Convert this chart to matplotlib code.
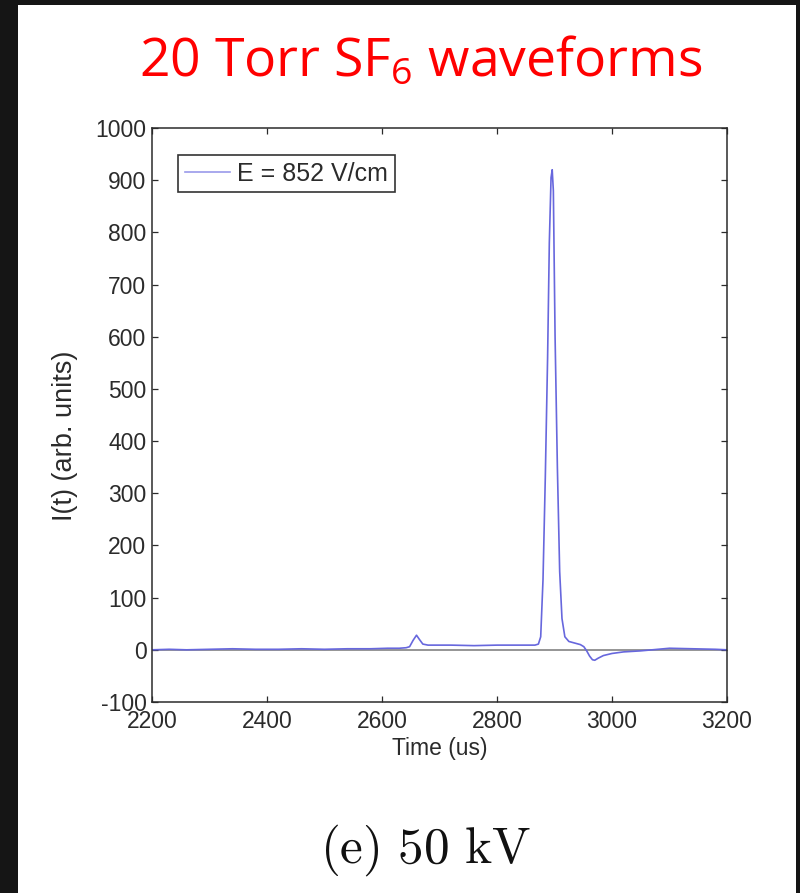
import matplotlib
matplotlib.use("Agg")
import matplotlib.pyplot as plt
from matplotlib.patches import Rectangle

# Waveform samples: time (us) and current (arb. units)
time_us = [2200, 2230, 2260, 2300, 2340, 2380, 2420, 2460, 2500, 2540,
           2580, 2610, 2630, 2642, 2648, 2654, 2660, 2665, 2671, 2680,
           2720, 2760, 2800, 2840, 2866, 2872, 2876, 2880, 2884, 2888,
           2891, 2894, 2896, 2898, 2901, 2905, 2909, 2913, 2918, 2925,
           2935, 2945, 2951, 2956, 2961, 2966, 2970, 2976, 2985, 3000,
           3020, 3050, 3080, 3100, 3140, 3180, 3200]
current = [0, 1, 0, 1, 2, 1, 1, 2, 1, 2,
           2, 3, 3, 4, 6, 18, 28, 20, 11, 9,
           9, 8, 9, 9, 9, 11, 25, 134, 330, 560,
           780, 905, 920, 880, 600, 350, 150, 60, 25, 16,
           13, 10, 6, -2, -12, -19, -20, -16, -11, -7,
           -4, -2, 1, 3, 2, 1, 0]

legend_label = "E = 852 V/cm"
x_ticks = [2200, 2400, 2600, 2800, 3000, 3200]
y_ticks = [-100, 0, 100, 200, 300, 400, 500, 600, 700, 800, 900, 1000]

plt.rcParams["mathtext.fontset"] = "custom"
plt.rcParams["mathtext.rm"] = "Open Sans"

W, H = 800, 893
fig = plt.figure(figsize=(W / 100, H / 100), dpi=100)
fig.patch.set_facecolor("#151515")

# white slide panel behind everything
bg = fig.add_axes([0, 0, 1, 1], zorder=-10)
bg.set_xlim(0, W)
bg.set_ylim(H, 0)
bg.axis("off")
bg.add_patch(Rectangle((18, 5), 796 - 18, H - 5, facecolor="white",
                       edgecolor="none"))

font = ["Liberation Sans", "DejaVu Sans"]
fs = 16.5
ink = "#2b2b2b"

ax = fig.add_axes([152 / W, 1 - 702 / H, (727 - 152) / W, (702 - 128) / H])
ax.set_facecolor("white")
ax.axhline(0, color="#8c8c8c", lw=1.3, zorder=1)
ax.plot(time_us, current, color="#6767dd", lw=1.2, label=legend_label, zorder=2)

ax.set_xlim(2200, 3200)
ax.set_ylim(-100, 1000)
ax.set_xticks(x_ticks)
ax.set_yticks(y_ticks)
ax.set_xticklabels([str(v) for v in x_ticks], family=font, fontsize=fs, color=ink)
ax.set_yticklabels([str(v) for v in y_ticks], family=font, fontsize=fs, color=ink)
ax.tick_params(direction="in", length=4.5, width=0.9, color=ink,
               top=True, right=True)
ax.tick_params(axis="x", pad=5.5)
ax.tick_params(axis="y", pad=4)
for s in ax.spines.values():
    s.set_color(ink)
    s.set_linewidth(1.1)

ax.set_xlabel("Time (us)", family=font, fontsize=fs, color=ink, labelpad=3)
ax.set_ylabel("I(t) (arb. units)", family=font, fontsize=19.5, color=ink)
ax.yaxis.set_label_coords(-0.128, 0.463)

leg = ax.legend(loc="upper left", bbox_to_anchor=(0.045, 0.953),
                borderaxespad=0, fancybox=False, framealpha=1,
                edgecolor="#333333", handlelength=1.8, handletextpad=0.3,
                borderpad=0.27, prop={"family": font, "size": 18})
leg.get_frame().set_linewidth(1.2)
for t in leg.get_texts():
    t.set_color(ink)
for l in leg.get_lines():
    l.set_color("#9a9aea")

fig.text(421 / W, 1 - 76 / H, r"20 Torr SF$_\mathrm{6}$ waveforms",
         family="Open Sans", fontsize=38.5, color="#ff0000",
         ha="center", va="baseline")

fig.text(425 / W, 1 - 863 / H, r"$\mathrm{(e)\ 50\ kV}$",
         fontsize=37, color="#111111", ha="center", va="baseline",
         math_fontfamily="cm")

fig.savefig("out.png", dpi=100, facecolor=fig.get_facecolor())
